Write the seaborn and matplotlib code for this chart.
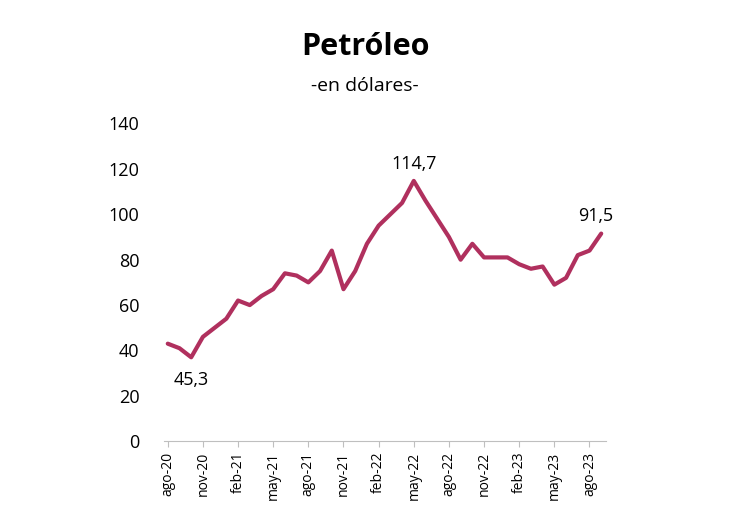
import numpy as np
import pandas as pd
import matplotlib
matplotlib.use("Agg")
import matplotlib.pyplot as plt
import seaborn as sns

plt.rcParams["font.family"] = "Open Sans"

months = ["ago-20", "sep-20", "oct-20", "nov-20", "dic-20", "ene-21", "feb-21", "mar-21",
          "abr-21", "may-21", "jun-21", "jul-21", "ago-21", "sep-21", "oct-21", "nov-21",
          "dic-21", "ene-22", "feb-22", "mar-22", "abr-22", "may-22", "jun-22", "jul-22",
          "ago-22", "sep-22", "oct-22", "nov-22", "dic-22", "ene-23", "feb-23", "mar-23",
          "abr-23", "may-23", "jun-23", "jul-23", "ago-23", "sep-23"]
prices = [43, 41, 37, 46, 50, 54, 62, 60, 64, 67, 74, 73, 70, 75, 84, 67, 75, 87, 95, 100,
          105, 114.7, 106, 98, 90, 80, 87, 81, 81, 81, 78, 76, 77, 69, 72, 82, 84, 91.5]

df = pd.DataFrame({"i": np.arange(len(months)), "precio": prices})

fig = plt.figure(figsize=(7.3, 5.21), dpi=100)
ax = fig.add_axes([0.225, 0.153, 0.605, 0.61])
sns.lineplot(data=df, x="i", y="precio", ax=ax, color="#B0305E", linewidth=3,
             solid_capstyle="round", solid_joinstyle="round")

ax.set_ylim(0, 140)
ax.set_yticks(range(0, 141, 20))
ax.set_xlim(-0.3, len(months) - 0.6)
ax.set_xticks(range(0, len(months), 3))
ax.set_xticklabels(months[::3], rotation=90, fontsize=10)
ax.tick_params(axis="y", length=0, labelsize=13, pad=18)
ax.tick_params(axis="x", length=4, color="#bfbfbf")
ax.set_xlabel("")
ax.set_ylabel("")
for s in ["top", "right", "left"]:
    ax.spines[s].set_visible(False)
ax.spines["bottom"].set_color("#bfbfbf")

ax.annotate("45,3", (2, 37), xytext=(0, -10), textcoords="offset points",
            ha="center", va="top", fontsize=13)
ax.annotate("114,7", (21, 114.7), xytext=(0, 6), textcoords="offset points",
            ha="center", va="bottom", fontsize=13)
ax.annotate("91,5", (37, 91.5), xytext=(-4, 6), textcoords="offset points",
            ha="center", va="bottom", fontsize=13)

fig.text(0.5, 0.91, "Petróleo", ha="center", va="center", fontsize=22, fontweight="bold")
fig.text(0.5, 0.835, "-en dólares-", ha="center", va="center", fontsize=14)

fig.savefig("out.png", dpi=100)
